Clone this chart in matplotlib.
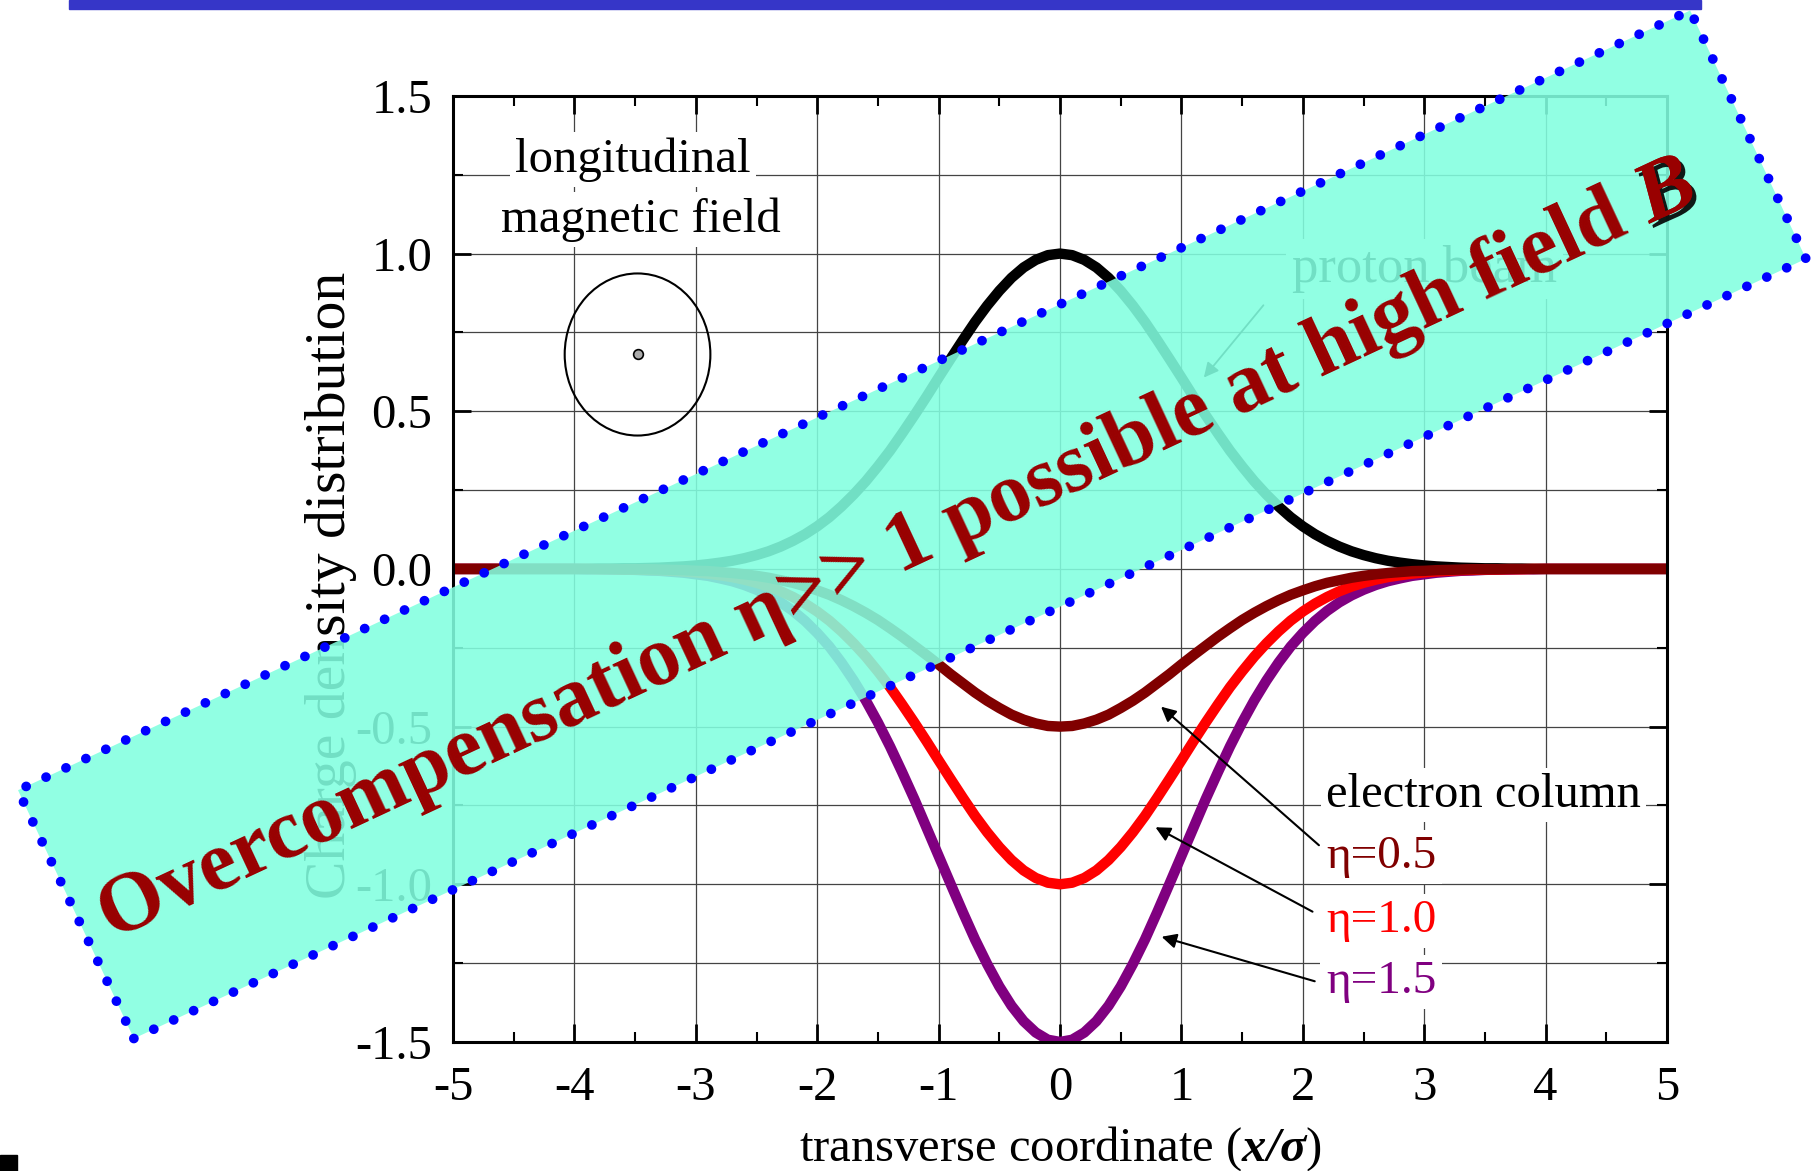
import numpy as np
import matplotlib
matplotlib.use('Agg')
import matplotlib.pyplot as plt
from matplotlib.patches import Polygon, Ellipse, Rectangle
import matplotlib.patheffects as pe

plt.rcParams['font.family'] = ['Liberation Serif', 'DejaVu Serif']
plt.rcParams['mathtext.fontset'] = 'custom'
plt.rcParams['mathtext.rm'] = 'Liberation Serif'
plt.rcParams['mathtext.it'] = 'Liberation Serif:italic'
plt.rcParams['mathtext.bf'] = 'Liberation Serif:bold'
plt.rcParams['mathtext.bfit'] = 'Liberation Serif:italic:bold'

# --- data (x/sigma from -5 to 5 in steps of 0.1) ---
x_sigma = np.linspace(-5, 5, 101)

proton_beam = [0.000, 0.000, 0.000, 0.000, 0.000, 0.000, 0.000, 0.000, 0.000, 0.000,
               0.000, 0.000, 0.001, 0.001, 0.002, 0.002, 0.003, 0.004, 0.006, 0.008,
               0.011, 0.015, 0.020, 0.026, 0.034, 0.044, 0.056, 0.071, 0.089, 0.110,
               0.135, 0.164, 0.198, 0.236, 0.278, 0.325, 0.375, 0.430, 0.487, 0.546,
               0.607, 0.667, 0.726, 0.783, 0.835, 0.882, 0.923, 0.956, 0.980, 0.995,
               1.000,
               0.995, 0.980, 0.956, 0.923, 0.882, 0.835, 0.783, 0.726, 0.667, 0.607,
               0.546, 0.487, 0.430, 0.375, 0.325, 0.278, 0.236, 0.198, 0.164, 0.135,
               0.110, 0.089, 0.071, 0.056, 0.044, 0.034, 0.026, 0.020, 0.015, 0.011,
               0.008, 0.006, 0.004, 0.003, 0.002, 0.002, 0.001, 0.001, 0.000, 0.000,
               0.000, 0.000, 0.000, 0.000, 0.000, 0.000, 0.000, 0.000, 0.000, 0.000]

eta_05 = [0.000, 0.000, 0.000, 0.000, 0.000, 0.000, 0.000, 0.000, 0.000, 0.000,
          0.000, 0.000, 0.000, 0.000, -0.001, -0.001, -0.001, -0.002, -0.003, -0.004,
          -0.006, -0.007, -0.010, -0.013, -0.017, -0.022, -0.028, -0.036, -0.044, -0.055,
          -0.068, -0.082, -0.099, -0.118, -0.139, -0.162, -0.188, -0.215, -0.244, -0.273,
          -0.303, -0.334, -0.363, -0.392, -0.418, -0.441, -0.462, -0.478, -0.490, -0.498,
          -0.500,
          -0.498, -0.490, -0.478, -0.462, -0.441, -0.418, -0.392, -0.363, -0.334, -0.303,
          -0.273, -0.244, -0.215, -0.188, -0.162, -0.139, -0.118, -0.099, -0.082, -0.068,
          -0.055, -0.044, -0.036, -0.028, -0.022, -0.017, -0.013, -0.010, -0.007, -0.006,
          -0.004, -0.003, -0.002, -0.001, -0.001, -0.001, 0.000, 0.000, 0.000, 0.000,
          0.000, 0.000, 0.000, 0.000, 0.000, 0.000, 0.000, 0.000, 0.000, 0.000]

eta_10 = [0.000, 0.000, 0.000, 0.000, 0.000, 0.000, 0.000, 0.000, 0.000, 0.000,
          0.000, 0.000, -0.001, -0.001, -0.002, -0.002, -0.003, -0.004, -0.006, -0.008,
          -0.011, -0.015, -0.020, -0.026, -0.034, -0.044, -0.056, -0.071, -0.089, -0.110,
          -0.135, -0.164, -0.198, -0.236, -0.278, -0.325, -0.375, -0.430, -0.487, -0.546,
          -0.607, -0.667, -0.726, -0.783, -0.835, -0.882, -0.923, -0.956, -0.980, -0.995,
          -1.000,
          -0.995, -0.980, -0.956, -0.923, -0.882, -0.835, -0.783, -0.726, -0.667, -0.607,
          -0.546, -0.487, -0.430, -0.375, -0.325, -0.278, -0.236, -0.198, -0.164, -0.135,
          -0.110, -0.089, -0.071, -0.056, -0.044, -0.034, -0.026, -0.020, -0.015, -0.011,
          -0.008, -0.006, -0.004, -0.003, -0.002, -0.002, -0.001, -0.001, 0.000, 0.000,
          0.000, 0.000, 0.000, 0.000, 0.000, 0.000, 0.000, 0.000, 0.000, 0.000]

eta_15 = [0.000, 0.000, 0.000, 0.000, 0.000, 0.000, 0.000, 0.000, 0.000, 0.000,
          0.000, -0.001, -0.001, -0.002, -0.002, -0.003, -0.005, -0.006, -0.009, -0.012,
          -0.017, -0.022, -0.030, -0.039, -0.051, -0.066, -0.084, -0.106, -0.133, -0.165,
          -0.203, -0.246, -0.297, -0.354, -0.417, -0.487, -0.563, -0.645, -0.730, -0.820,
          -0.910, -1.000, -1.089, -1.175, -1.253, -1.324, -1.385, -1.434, -1.470, -1.493,
          -1.500,
          -1.493, -1.470, -1.434, -1.385, -1.324, -1.253, -1.175, -1.089, -1.000, -0.910,
          -0.820, -0.730, -0.645, -0.563, -0.487, -0.417, -0.354, -0.297, -0.246, -0.203,
          -0.165, -0.133, -0.106, -0.084, -0.066, -0.051, -0.039, -0.030, -0.022, -0.017,
          -0.012, -0.009, -0.006, -0.005, -0.003, -0.002, -0.002, -0.001, -0.001, 0.000,
          0.000, 0.000, 0.000, 0.000, 0.000, 0.000, 0.000, 0.000, 0.000, 0.000]

curve_labels = ['\u03b7=0.5', '\u03b7=1.0', '\u03b7=1.5']
curve_colors = ['#800000', '#ff0000', '#800080']

x_ticks = [-5, -4, -3, -2, -1, 0, 1, 2, 3, 4, 5]
y_ticks = [-1.5, -1.0, -0.5, 0.0, 0.5, 1.0, 1.5]

W, H = 1812, 1171
fig = plt.figure(figsize=(W / 100, H / 100), dpi=100)
ax = fig.add_axes([0.25, 0.1102, 0.670, 0.8079])

# black first, then the electron columns, eta=0.5 ends up on top
ax.plot(x_sigma, proton_beam, color='black', lw=7.5, zorder=2, solid_capstyle='butt')
for vals, col in zip([eta_15, eta_10, eta_05], curve_colors[::-1]):
    ax.plot(x_sigma, vals, color=col, lw=7.5, zorder=2, solid_capstyle='butt')

ax.set_xlim(-5, 5)
ax.set_ylim(-1.5, 1.5)
ax.set_xticks(x_ticks)
ax.set_xticklabels([str(t) for t in x_ticks])
ax.set_yticks(y_ticks)
ax.set_yticklabels(['%.1f' % t for t in y_ticks])
ax.set_xticks(np.arange(-4.5, 5, 1.0), minor=True)
ax.set_yticks(np.arange(-1.25, 1.5, 0.5), minor=True)
ax.tick_params(which='both', direction='in', top=True, right=True, labelsize=35)
ax.tick_params(which='major', length=13, width=2)
ax.tick_params(which='minor', length=7, width=1.5)
ax.tick_params(axis='y', which='major', pad=15)
ax.tick_params(axis='x', which='major', pad=17)
ax.set_axisbelow(True)
ax.grid(True, which='major', axis='x', color='#444444', lw=0.9)
ax.grid(True, which='both', axis='y', color='#444444', lw=0.9)
for s in ax.spines.values():
    s.set_linewidth(2.2)

ax.set_xlabel(r'transverse coordinate ($\mathbfit{x/\sigma}$)', fontsize=35)
ax.set_ylabel('Charge density distribution', fontsize=41.5)
ax.xaxis.set_label_coords(0.5, -0.087)
ax.yaxis.set_label_coords(-0.079, 0.483)

white = dict(facecolor='white', edgecolor='none', pad=4)
ax.text(-3.52, 1.259, 'longitudinal', fontsize=35, ha='center', va='baseline', bbox=white, zorder=3)
ax.text(-3.45, 1.069, 'magnetic field', fontsize=35, ha='center', va='baseline', bbox=white, zorder=3)
ax.add_patch(Ellipse((-3.48, 0.68), 1.2, 0.514, fill=False, lw=1.5, zorder=3))
ax.plot(-3.48, 0.68, 'o', ms=7, mfc='#aaaaaa', mec='black', mew=1.2, zorder=3)

ax.text(3.0, 0.91, 'proton beam', fontsize=38, ha='center', va='baseline', bbox=white, zorder=3)
ax.annotate('', xy=(1.17, 0.6), xytext=(1.69, 0.843),
            arrowprops=dict(arrowstyle='-|>', color='black', lw=1.3, mutation_scale=22), zorder=3)

ax.text(2.19, -0.755, 'electron column', fontsize=35, ha='left', va='baseline', bbox=white, zorder=3)
label_y = [-0.948, -1.151, -1.345]
arrow_from = [(2.15, -0.882), (2.10, -1.091), (2.12, -1.310)]
arrow_to = [(0.815, -0.431), (0.766, -0.815), (0.815, -1.164)]
for lab, col, ly, a0, a1 in zip(curve_labels, curve_colors, label_y, arrow_from, arrow_to):
    ax.text(2.19, ly, lab, fontsize=34, color=col, ha='left', va='baseline', bbox=white, zorder=3)
    ax.annotate('', xy=a1, xytext=a0,
                arrowprops=dict(arrowstyle='-|>', color='black', lw=1.5, mutation_scale=22), zorder=3)

# --- decorations of the slide ---
fig.add_artist(Rectangle((69 / W, 1 - 9 / H), (1701 - 69) / W, 9 / H,
                         transform=fig.transFigure, color='#3636c8', zorder=12))
fig.add_artist(Rectangle((0, 0), 17 / W, 16 / H, transform=fig.transFigure,
                         color='black', zorder=12))

# --- tilted banner ---
ang = np.deg2rad(25)
cx, cy = 912, H - 524.5
bw, bh = 1845, 274
ux = np.array([np.cos(ang), np.sin(ang)])
vy = np.array([-np.sin(ang), np.cos(ang)])
c0 = np.array([cx, cy])
corners = [c0 + sx * bw / 2 * ux + sy * bh / 2 * vy for sx, sy in [(-1, -1), (1, -1), (1, 1), (-1, 1)]]
corners = [(p[0] / W, p[1] / H) for p in corners]
banner = Polygon(corners, closed=True, transform=fig.transFigure,
                 facecolor='#82ffe0', alpha=0.88, edgecolor='none', zorder=10)
fig.add_artist(banner)
border = Polygon(corners, closed=True, transform=fig.transFigure, fill=False,
                 edgecolor='#0000ff', lw=7, linestyle=(0, (0.01, 2.25)),
                 capstyle='round', zorder=10.5)
fig.add_artist(border)

main_str = 'Overcompensation \u03b7>> 1 possible at high field '
fs = 61
renderer = fig.canvas.get_renderer()
tmp = fig.text(0, 0, main_str, fontsize=fs, fontweight='bold')
w_main = tmp.get_window_extent(renderer).width
tmp.remove()
tmpb = fig.text(0, 0, 'B', fontsize=fs, fontweight='bold', fontstyle='italic')
w_b = tmpb.get_window_extent(renderer).width
tmpb.remove()

start = c0 - ((w_main + w_b) / 2 + 24) * ux - 39 * vy
fig.text(start[0] / W, start[1] / H, main_str, fontsize=fs, fontweight='bold',
         color='#990000', rotation=25, rotation_mode='anchor', ha='left', va='baseline', zorder=11)
pb = start + w_main * ux
fig.text(pb[0] / W, pb[1] / H, 'B', fontsize=fs, fontweight='bold', fontstyle='italic',
         color='#990000', rotation=25, rotation_mode='anchor', ha='left', va='baseline', zorder=11,
         path_effects=[pe.withSimplePatchShadow(offset=(3, -3), shadow_rgbFace='black', alpha=0.9),
                       pe.Normal()])

fig.savefig('out.png', dpi=100)
